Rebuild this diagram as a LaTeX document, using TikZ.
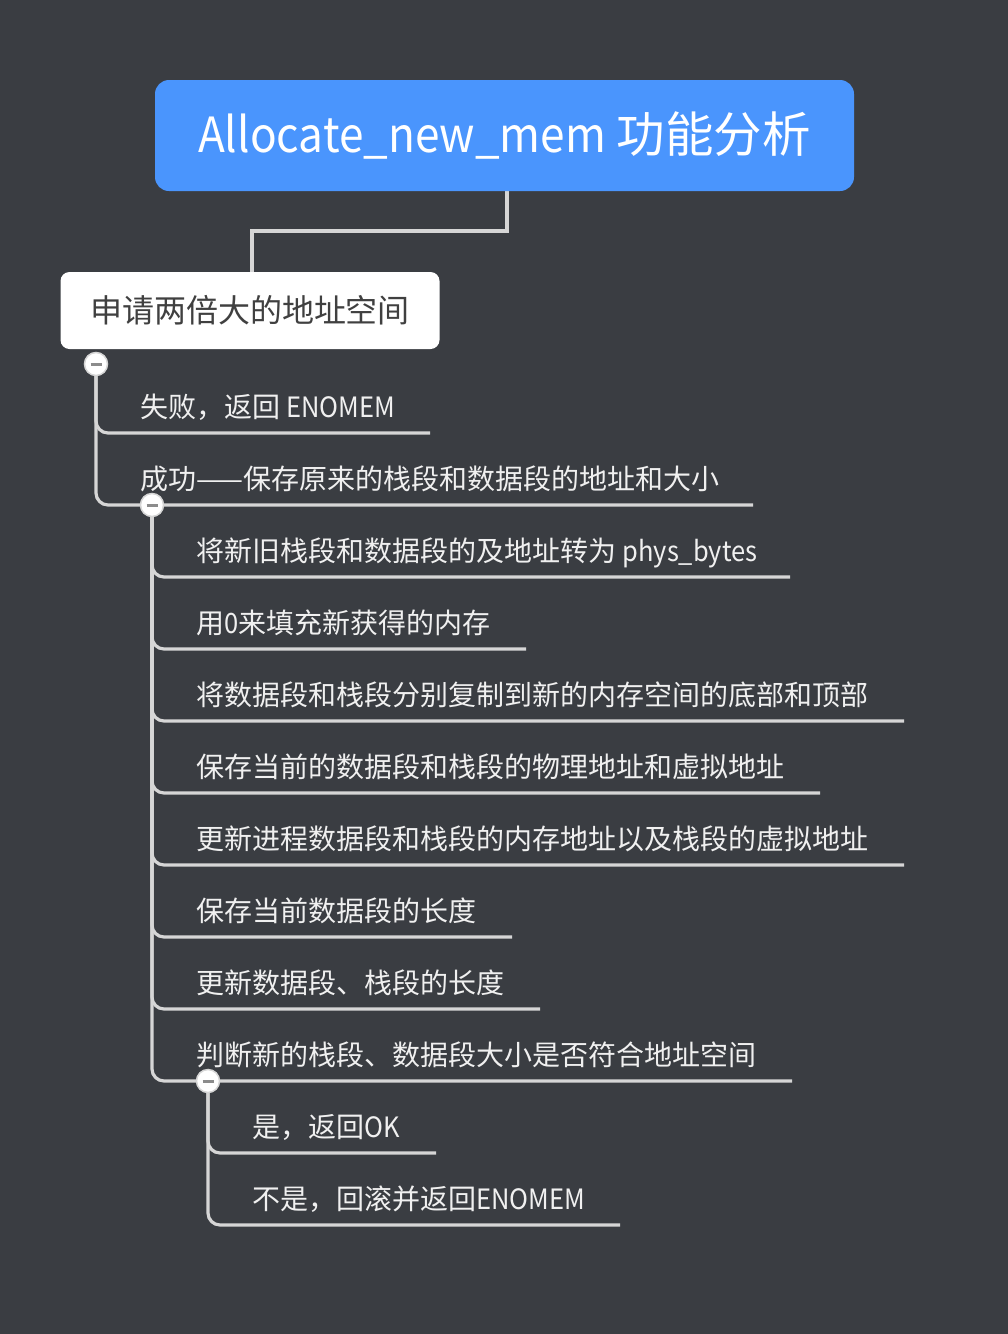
\documentclass[tikz,border=0pt]{standalone}
\usepackage{fontspec}
\setmainfont{Noto Sans CJK SC}
\newfontfamily\latn[FakeStretch=0.91]{Noto Sans CJK SC}
\definecolor{bgc}{RGB}{58,61,66}
\definecolor{blu}{RGB}{74,149,253}
\definecolor{linec}{RGB}{214,214,214}
\definecolor{txtc}{RGB}{240,240,240}
\definecolor{darktxt}{RGB}{64,64,64}
\definecolor{minusc}{RGB}{140,140,140}
\pgfdeclarelayer{bg}
\pgfdeclarelayer{lines}
\pgfsetlayers{bg,lines,main}
\tikzset{
  conn/.style={draw=linec, line width=3.2pt, rounded corners=12pt},
  tconn/.style={draw=linec, line width=3.2pt},
  item/.style={anchor=base west, inner sep=0pt, text=txtc, font=\fontsize{28}{28}\selectfont},
  circ/.style={circle, fill=white, draw=linec, line width=1.5pt, minimum size=23pt, inner sep=0pt,
    path picture={\draw[minusc, line width=3pt] ([xshift=-5.5pt]path picture bounding box.center) -- ([xshift=5.5pt]path picture bounding box.center);}},
}
\begin{document}
\begin{tikzpicture}[x=1pt,y=-1pt]
\begin{pgfonlayer}{bg}
\fill[bgc] (0,0) rectangle (1008,1334);
\end{pgfonlayer}
\useasboundingbox (0,0) rectangle (1008,1334);

% title and root child
\node[fill=blu, rounded corners=14pt, minimum width=699pt, minimum height=111pt, inner sep=0pt,
  text=white, font=\fontsize{48.5}{48.5}\selectfont] (title) at (504.5,135.5) {{\latn Allocate\_new\_mem} 功能分析};
\node[fill=white, rounded corners=9pt, minimum width=379pt, minimum height=77pt, inner sep=0pt,
  text=darktxt, font=\fontsize{32}{32}\selectfont] (n2) at (250,310.5) {申请两倍大的地址空间};

\coordinate (tj) at (507,231);
\begin{pgfonlayer}{lines}
\draw[tconn] ([xshift=2.5pt]title.south) -- (tj) -| ([xshift=2pt]n2.north);
\end{pgfonlayer}

% level 1
\node[circ] (c1) at (96,364) {};
\node[item] (a1) at (140,417) {失败，返回 {\latn ENOMEM}};
\node[item] (a2) at (140,489) {成功——保存原来的栈段和数据段的地址和大小};
\coordinate (u1) at (430,433);
\coordinate (u2) at (753,505);

% level 2
\node[circ] (c2) at (152,505) {};
\node[item] (b1) at (196,561) {将新旧栈段和数据段的及地址转为 {\latn phys\_bytes}};
\node[item] (b2) at (196,633) {用{\latn 0}来填充新获得的内存};
\node[item] (b3) at (196,705) {将数据段和栈段分别复制到新的内存空间的底部和顶部};
\node[item] (b4) at (196,777) {保存当前的数据段和栈段的物理地址和虚拟地址};
\node[item] (b5) at (196,849) {更新进程数据段和栈段的内存地址以及栈段的虚拟地址};
\node[item] (b6) at (196,921) {保存当前数据段的长度};
\node[item] (b7) at (196,993) {更新数据段、栈段的长度};
\node[item] (b8) at (196,1065) {判断新的栈段、数据段大小是否符合地址空间};
\coordinate (v1) at (790,577);
\coordinate (v2) at (526,649);
\coordinate (v3) at (904,721);
\coordinate (v4) at (820,793);
\coordinate (v5) at (904,865);
\coordinate (v6) at (512,937);
\coordinate (v7) at (540,1009);
\coordinate (v8) at (792,1081);

% level 3
\node[circ] (c3) at (208,1081) {};
\node[item] (d1) at (252,1137) {是，返回{\latn OK}};
\node[item] (d2) at (252,1209) {不是，回滚并返回{\latn ENOMEM}};
\coordinate (w1) at (436,1153);
\coordinate (w2) at (620,1225);

\begin{pgfonlayer}{lines}
\foreach \u in {u1,u2} \draw[conn] (c1.center) |- (\u);
\foreach \v in {v1,v2,v3,v4,v5,v6,v7,v8} \draw[conn] (c2.center) |- (\v);
\foreach \w in {w1,w2} \draw[conn] (c3.center) |- (\w);
\end{pgfonlayer}
\end{tikzpicture}
\end{document}
